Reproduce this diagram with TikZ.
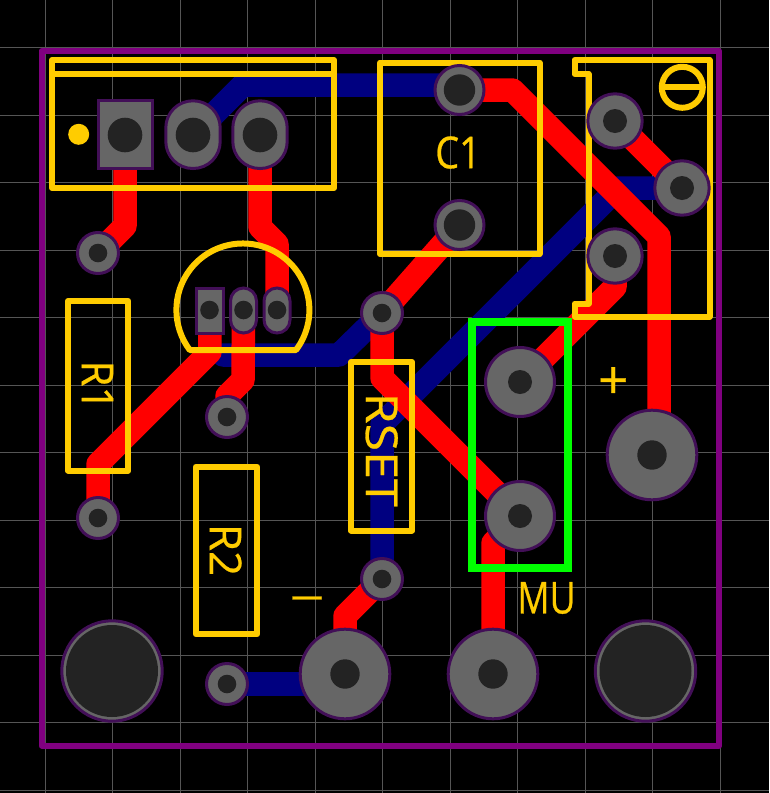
\documentclass[tikz,border=0pt]{standalone}
\usepackage{fontspec}
\setmainfont{Open Sans}[RawFeature={embolden=0.6}]
\definecolor{gridc}{HTML}{555555}
\definecolor{copA}{HTML}{FF0000}
\definecolor{copB}{HTML}{000080}
\definecolor{silk}{HTML}{FFCC00}
\definecolor{edge}{HTML}{800080}
\definecolor{padf}{HTML}{666666}
\definecolor{pads}{HTML}{420F57}
\definecolor{holec}{HTML}{232323}
\definecolor{greenb}{HTML}{00FF00}
\tikzset{
  gridline/.style={gridc,line width=1pt},
  redtrace/.style={copA,line width=23.5pt,line join=round,line cap=round},
  bluetrace/.style={copB,line width=23.5pt,line join=round,line cap=round},
  silkline/.style={silk,line width=6pt,line join=round,line cap=round},
  outline/.style={edge,line width=6pt,line join=round},
  padshape/.style={fill=padf,draw=pads,line width=3pt},
  holeshape/.style={fill=holec},
  silktext/.style={silk,inner sep=0pt,font=\fontsize{44}{44}\selectfont}
}
\newcommand{\roundpad}[3]{% coordinate, pad radius, hole radius
  \path[padshape] (#1) circle[radius=#2pt];
  \path[holeshape] (#1) circle[radius=#3pt];}
\begin{document}
\begin{tikzpicture}[x=1pt,y=-1pt]
\useasboundingbox (0,0) rectangle (769,793);
\fill[black] (0,0) rectangle (769,793);
% grid
\foreach \gx in {45,112.5,180,247.5,315,382.5,450,517.5,585,652.5,720}
  \draw[gridline] (\gx,0) -- (\gx,793);
\foreach \gy in {47.5,115,182.5,250,317.5,385,452.5,520,587.5,655,722.5,790}
  \draw[gridline] (0,\gy) -- (769,\gy);
% pad centres
\coordinate (j1) at (125,135);
\coordinate (j2) at (193,135);
\coordinate (j3) at (260,135);
\coordinate (q1) at (209.5,310);
\coordinate (q2) at (243.5,310);
\coordinate (q3) at (277,310);
\coordinate (c1a) at (459.5,90);
\coordinate (c1b) at (459.5,225);
\coordinate (sw1) at (615,121);
\coordinate (sw2) at (682,188);
\coordinate (sw3) at (615,256);
\coordinate (mu1) at (520,382);
\coordinate (mu2) at (520,516);
\coordinate (bpos) at (652,455);
\coordinate (bneg) at (345,674);
\coordinate (bmu) at (493,674);
\coordinate (via1) at (98,253);
\coordinate (via2) at (98,518);
\coordinate (via3) at (227,417);
\coordinate (via4) at (382,313);
\coordinate (via5) at (382,579);
\coordinate (via6) at (227,684);
\coordinate (mh1) at (112,671);
\coordinate (mh2) at (645.5,671);
\coordinate (btop) at (459.5,85);
% bottom copper
\draw[bluetrace] (j2) -- (243,85) -- (btop);
\draw[bluetrace] (sw2) -- (618,188) -- (382,424) -- (via5);
\draw[bluetrace] (via6) -- (bneg |- via6);
\draw[bluetrace] (223,355) -- (339,355) -- (via4);
% top copper
\draw[redtrace] (j1) -- (125,226) -- (via1);
\draw[redtrace] (j3) -- (260,227) -- (277,244) -- (q3);
\draw[redtrace] (q1) -- (210,352) -- (98,464) -- (via2);
\draw[redtrace] (q2) -- (243,380) -- (227,396) -- (via3);
\draw[redtrace] (c1b) -- (via4);
\draw[redtrace] (via4) -- (382,378) -- (mu2);
\draw[redtrace] (c1a) -- (512.5,90) -- (659,236.5) -- (659,455);
\draw[redtrace] (sw3) -- (615,287) -- (mu1);
\draw[redtrace] (sw1) -- (sw2);
\draw[redtrace] (via5) -- (345,616) -- (bneg);
\draw[redtrace] (bmu) -- (493,543) -- (mu2);
% outline
\draw[outline] (41.5,51) rectangle (719,745.5);
% silk
\draw[silkline] (52,60) rectangle (334,188);
\draw[silkline] (52,73.5) -- (334,73.5);
\fill[silk] (78.7,134.3) circle[radius=10.5pt];
\draw[silkline] (296,350) arc[start angle=-37,end angle=217,radius=66.5pt] -- cycle;
\draw[silkline] (380,62.5) rectangle (539.5,254);
\draw[silkline] (574.5,60) -- (709.5,60) -- (709.5,316.5) -- (574.5,316.5) -- (574.5,303.5) -- (588.5,303.5) -- (588.5,74) -- (574.5,74) -- cycle;
\draw[silkline] (682.3,87.3) circle[radius=20.5pt];
\draw[silkline] (662,87.3) -- (702.5,87.3);
\draw[silkline] (68,301) rectangle (128.3,470.5);
\draw[silkline] (195.7,466.7) rectangle (257.3,634);
\draw[silkline] (351,362) rectangle (412,530.5);
\draw[greenb,line width=7.7pt] (472,322) rectangle (568,568);
\node[silktext,xscale=0.86] (lc1) at (458,152.5) {C1};
\node[silktext,rotate=-90,xscale=0.96] (lr1) at (97.5,385.5) {R1};
\node[silktext,rotate=-90] (lr2) at (225.7,550) {R2};
\node[silktext,rotate=-90,xscale=1.14] (lrset) at (381.7,449.7) {RSET};
\node[silktext,xscale=0.81] (lmu) at (546.5,598) {MU};
\node[silktext,font=\fontsize{53}{53}\selectfont] (lplus) at (613.3,383) {+};
\node[silktext,xscale=1.4] (lminus) at (307,605) {−};
% pads
\path[padshape] (98.2,100.8) rectangle (152.8,168.5);
\path[holeshape] (j1) circle[radius=17.3pt];
\path[padshape,rounded corners=27pt] (165.8,100.8) rectangle (220.2,168.5);
\path[holeshape] (j2) circle[radius=17.3pt];
\path[padshape,rounded corners=27pt] (232.8,100.8) rectangle (287.2,168.5);
\path[holeshape] (j3) circle[radius=17.3pt];
\path[padshape] (196.2,288) rectangle (223.2,333);
\path[holeshape] (q1) circle[radius=9.3pt];
\path[padshape,rounded corners=13pt] (230.5,288) rectangle (256.5,333);
\path[holeshape] (q2) circle[radius=9.3pt];
\path[padshape,rounded corners=13pt] (264,288) rectangle (290,333);
\path[holeshape] (q3) circle[radius=9.3pt];
\roundpad{c1a}{24.5}{15.7}
\roundpad{c1b}{24.5}{15.7}
\roundpad{sw1}{27.2}{12}
\roundpad{sw2}{27.2}{12}
\roundpad{sw3}{27.2}{12}
\roundpad{mu1}{34.5}{12}
\roundpad{mu2}{34.5}{12}
\roundpad{bpos}{44.8}{14.7}
\roundpad{bneg}{44.8}{14.7}
\roundpad{bmu}{44.8}{14.7}
\roundpad{via1}{20.5}{9.3}
\roundpad{via2}{20.5}{9.3}
\roundpad{via3}{20.5}{9.3}
\roundpad{via4}{20.5}{9.3}
\roundpad{via5}{20.5}{9.3}
\roundpad{via6}{20.5}{9.3}
\roundpad{mh1}{50.2}{46}
\roundpad{mh2}{50.2}{46}
\end{tikzpicture}
\end{document}
